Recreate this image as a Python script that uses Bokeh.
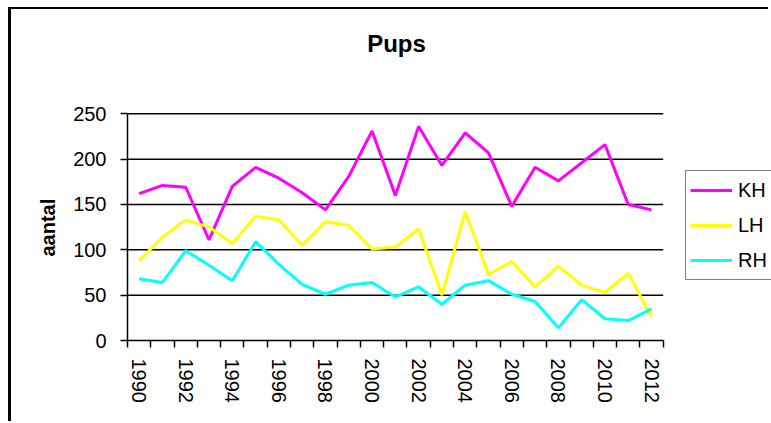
import math
from bokeh.plotting import figure
from bokeh.models import Range1d, FixedTicker, Legend, LegendItem, Label, Title
from bokeh.embed import file_html
from bokeh.resources import INLINE

years = list(range(1990, 2013))
KH = [162, 171, 169, 111, 170, 191, 179, 163, 144, 181, 231, 160, 236, 193,
      229, 207, 148, 191, 176, 196, 216, 150, 144]
LH = [88, 114, 133, 125, 107, 137, 133, 105, 131, 127, 101, 103, 123, 50,
      142, 73, 87, 59, 82, 61, 53, 74, 26]
RH = [68, 64, 99, 83, 66, 109, 84, 62, 51, 61, 64, 48, 59, 40, 61, 66, 51,
      43, 14, 45, 24, 22, 35]
series_names = ["KH", "LH", "RH"]
series_colors = ["#FF00FF", "#FFFF00", "#00FFFF"]
y_ticks = [0, 50, 100, 150, 200, 250]
x_label_years = [y for y in years if y % 2 == 0]

FONT = "Liberation Sans"

x_lo, x_hi = years[0] - 0.5, years[-1] + 0.5
y_lo, y_hi = y_ticks[0], y_ticks[-1]
boundaries = [y - 0.5 for y in years] + [x_hi]

# frame extends to the right/top canvas edges so legend & title are not clipped
p = figure(width=760, height=414, output_backend="svg", toolbar_location=None,
           x_range=Range1d(x_lo, 2017.15), y_range=Range1d(y_lo, 365),
           min_border_left=116, min_border_right=0,
           min_border_top=0, min_border_bottom=83,
           styles={"border-left": "3px solid black",
                   "border-top": "2px solid black",
                   "margin-left": "8px", "margin-top": "7px"})
p.outline_line_color = None
p.background_fill_color = "white"
p.border_fill_color = "white"
p.title.text = ""

# x axis
p.xaxis.bounds = (x_lo, x_hi)
p.xaxis.ticker = FixedTicker(ticks=x_label_years, minor_ticks=boundaries)
p.xaxis.major_tick_out = 0
p.xaxis.major_tick_in = 0
p.xaxis.minor_tick_out = 7
p.xaxis.minor_tick_in = 0
p.xaxis.minor_tick_line_color = "black"
p.xaxis.minor_tick_line_width = 1.5
p.xaxis.major_label_orientation = -math.pi / 2
p.xaxis.major_label_standoff = 11
p.xaxis.major_label_text_font = FONT
p.xaxis.major_label_text_font_size = "20px"
p.xaxis.major_label_text_color = "black"
p.xaxis.axis_line_color = "black"
p.xaxis.axis_line_width = 1.5

# y axis
p.yaxis.bounds = (y_lo, y_hi)
p.yaxis.ticker = FixedTicker(ticks=y_ticks)
p.yaxis.major_tick_out = 7
p.yaxis.major_tick_in = 0
p.yaxis.major_tick_line_color = "black"
p.yaxis.major_tick_line_width = 1.5
p.yaxis.minor_tick_line_color = None
p.yaxis.major_label_standoff = 14
p.yaxis.major_label_text_font = FONT
p.yaxis.major_label_text_font_size = "20px"
p.yaxis.major_label_text_color = "black"
p.yaxis.axis_line_color = "black"
p.yaxis.axis_line_width = 1.5

# y axis title, aligned to the plotted value range (not the whole frame)
p.add_layout(Title(text="aantal", align="left", offset=84, standoff=24,
                   text_font=FONT, text_font_size="20px",
                   text_font_style="bold", text_color="black"), "left")

# horizontal gridlines limited to the plot area
p.xgrid.grid_line_color = None
p.ygrid.grid_line_color = None
grid_vals = y_ticks[1:]
p.segment(x0=[x_lo] * len(grid_vals), x1=[x_hi] * len(grid_vals),
          y0=grid_vals, y1=grid_vals, line_color="black", line_width=1.5)

renderers = []
for name, vals, col in zip(series_names, [KH, LH, RH], series_colors):
    r = p.line(years, vals, line_color=col, line_width=3)
    renderers.append(r)

legend = Legend(items=[LegendItem(label=n, renderers=[r])
                       for n, r in zip(series_names, renderers)],
                location=(558, 60))
legend.label_text_font = FONT
legend.label_text_font_size = "20px"
legend.label_text_color = "black"
legend.glyph_width = 42
legend.glyph_height = 30
legend.label_height = 30
legend.label_width = 50
legend.label_standoff = 6
legend.spacing = 5
legend.padding = 4
legend.margin = 0
legend.border_line_color = "black"
legend.border_line_width = 1.5
legend.background_fill_color = "white"
legend.background_fill_alpha = 1.0
p.add_layout(legend)

title = Label(x=382, y=31.7, x_units="canvas", y_units="canvas",
              text="Pups", text_align="center", text_baseline="alphabetic",
              text_font=FONT, text_font_size="24px", text_font_style="bold",
              text_color="black")
p.add_layout(title)

open("out.html", "w").write(file_html(p, INLINE))
